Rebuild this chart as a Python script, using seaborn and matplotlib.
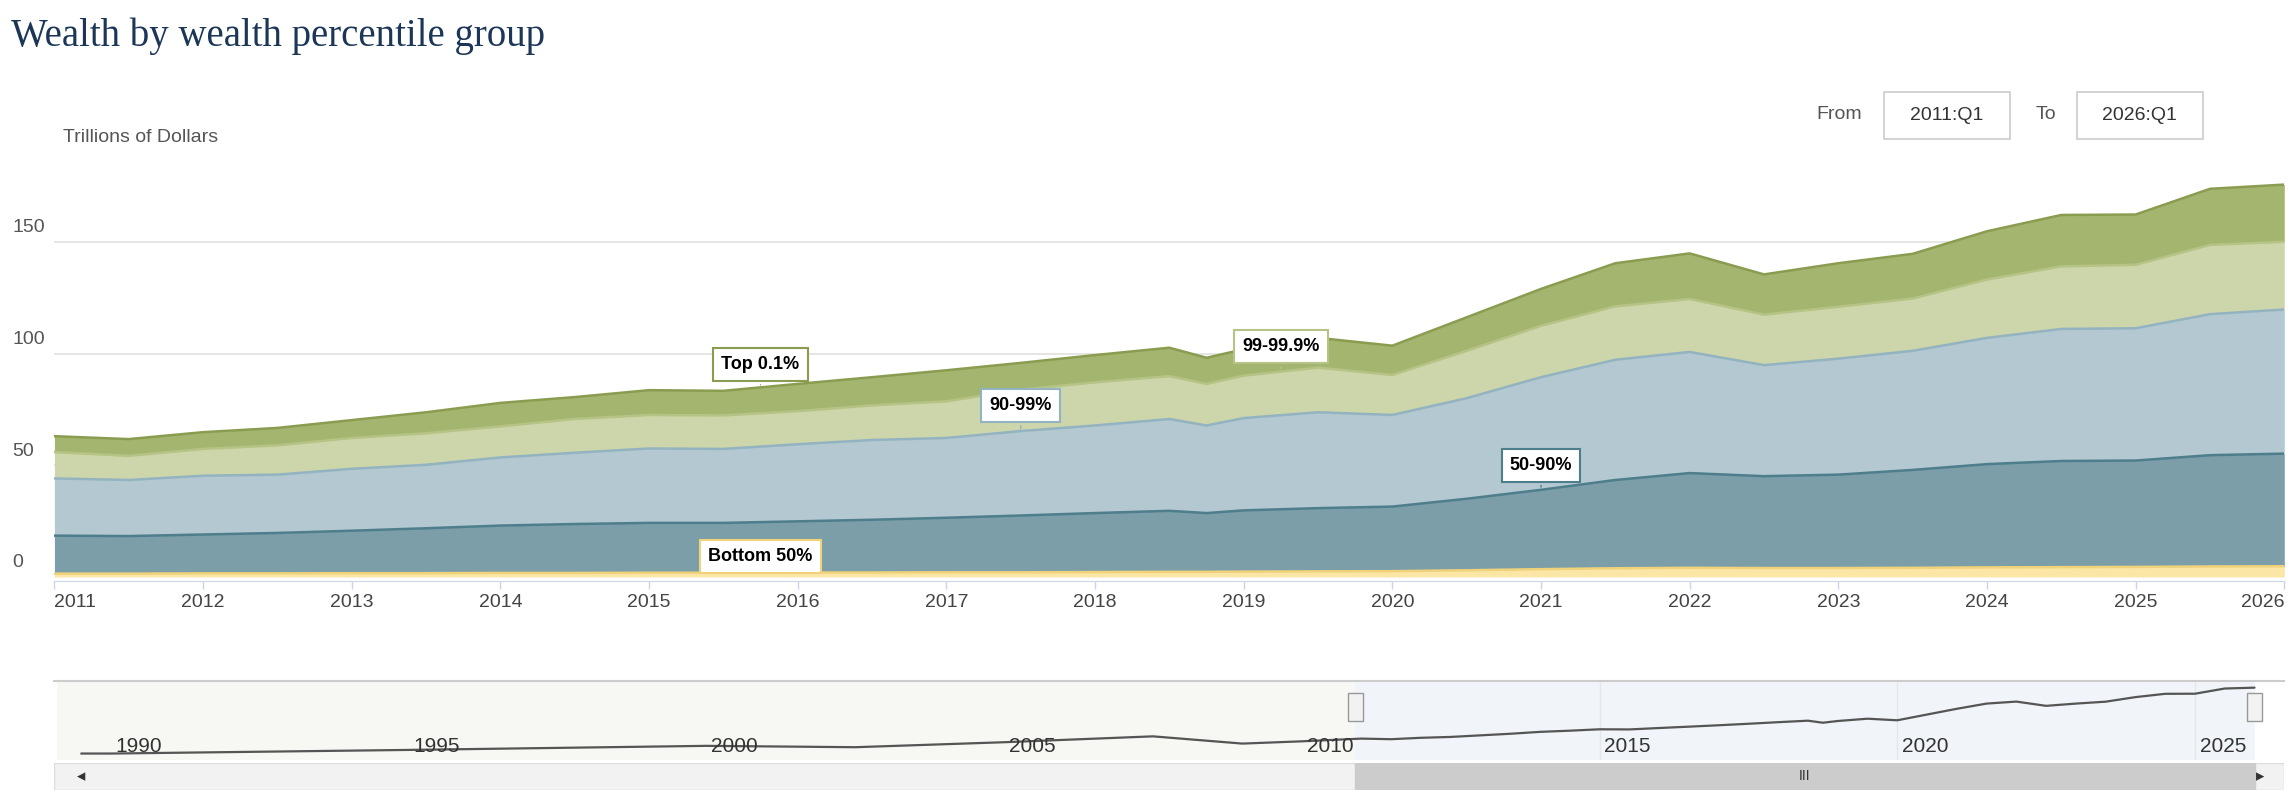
import numpy as np
import pandas as pd
import matplotlib.pyplot as plt
import matplotlib.patches as mpatches
import seaborn as sns

# datas (anos decimais) e limites acumulados, em trilhões
anos = [2011.0, 2011.5, 2012.0, 2012.5, 2013.0, 2013.5, 2014.0, 2014.5, 2015.0, 2015.5,
        2016.0, 2016.5, 2017.0, 2017.5, 2018.0, 2018.5, 2018.75, 2019.0, 2019.5, 2020.0,
        2020.5, 2021.0, 2021.5, 2022.0, 2022.5, 2023.0, 2023.5, 2024.0, 2024.5, 2025.0,
        2025.5, 2026.0]
total = [63, 61.7, 64.8, 66.7, 70.2, 73.7, 77.9, 80.5, 83.6, 83.3, 86.4, 89.4, 92.5, 95.8,
         99.3, 102.6, 98.1, 101.9, 107, 103.5, 116.2, 128.9, 140.4, 144.8, 135.4, 140.4,
         144.6, 154.7, 162, 162.2, 173.7, 175.6]
ate_999 = [55.9, 54.2, 57.3, 58.9, 62.2, 64.3, 67.4, 70.7, 72.5, 72.3, 74.2, 76.8, 78.6, 83.8,
           87.1, 89.9, 86.4, 90.1, 93.7, 90.4, 101.2, 112.4, 121.1, 124.4, 117.4, 120.9,
           124.6, 133.1, 139, 139.7, 148.6, 150]
ate_99 = [44.1, 43.4, 45.3, 45.8, 48.4, 50.2, 53.5, 55.6, 57.5, 57.3, 59.4, 61.3, 62.2, 65.3,
          67.8, 70.7, 67.8, 71.1, 73.7, 72.5, 80, 89.4, 97.2, 100.7, 94.8, 97.7, 101.2, 107,
          111, 111.3, 117.6, 119.7]
ate_90 = [18.5, 18.3, 19, 19.7, 20.7, 21.8, 23, 23.7, 24.2, 24.2, 24.9, 25.6, 26.5, 27.5,
          28.6, 29.6, 28.6, 29.8, 30.8, 31.5, 35, 39, 43.4, 46.5, 45.1, 45.8, 47.9, 50.5,
          51.9, 52.1, 54.5, 55.2]
base_50 = [1.5, 1.5, 1.6, 1.6, 1.7, 1.7, 1.8, 1.8, 1.9, 1.9, 2.0, 2.0, 2.1, 2.1, 2.2, 2.3,
           2.3, 2.4, 2.5, 2.6, 3.0, 3.5, 3.9, 4.1, 4.0, 4.0, 4.1, 4.3, 4.4, 4.5, 4.7, 4.8]

# navegador: série total desde 1989
anos_nav = [1989.5, 1990, 1995, 2000, 2002.5, 2005, 2007.5, 2009, 2010] + anos
total_nav = [30, 30, 38, 47, 44, 55, 68, 52, 57] + total

cores = {'Top 0.1%': ('#a4b56f', '#8a9c50'), '99-99.9%': ('#cdd6aa', '#b5c385'),
         '90-99%': ('#b3c8d0', '#94b3c0'), '50-90%': ('#7b9ea9', '#4e7d8c'),
         'Bottom 50%': ('#fbe6a6', '#f0d27a')}

df = pd.DataFrame({'ano': anos, 'total': total, 'p999': ate_999, 'p99': ate_99,
                   'p90': ate_90, 'p50': base_50})

sns.set_style('white')
plt.rcParams['font.family'] = ['Liberation Sans', 'DejaVu Sans']

fig = plt.figure(figsize=(22.96, 8.08), dpi=100)
ax = fig.add_axes([0.0237, 0.2815, 0.9712, 0.505])

camadas = [(None, 'p50', 'Bottom 50%'), ('p50', 'p90', '50-90%'), ('p90', 'p99', '90-99%'),
           ('p99', 'p999', '99-99.9%'), ('p999', 'total', 'Top 0.1%')]
for baixo, cima, nome in camadas:
    y0 = 0 if baixo is None else df[baixo]
    ax.fill_between(df['ano'], y0, df[cima], color=cores[nome][0], lw=0)
    sns.lineplot(data=df, x='ano', y=cima, color=cores[nome][1], lw=1.8, ax=ax)

ax.set_xlim(2011, 2026)
ax.set_ylim(-1.6, 181)
ax.set_xticks(range(2011, 2027))
ax.set_xlabel('')
ax.set_ylabel('')
ax.tick_params(axis='x', labelsize=14, colors='#444444', length=6, width=1, color='#ccd6eb',
               direction='out', bottom=True)
ax.get_xticklabels()[-1].set_ha('right')
ax.get_xticklabels()[0].set_ha('left')
ax.set_yticks([0, 50, 100, 150])
ax.set_yticklabels([])
ax.tick_params(axis='y', length=0)
for v in [50, 100, 150]:
    ax.axhline(v, color='#e0e0e0', lw=1.2, zorder=0.5)
for v in [0, 50, 100, 150]:
    ax.text(-0.019, v + 2.5, str(v), transform=ax.get_yaxis_transform(), ha='left',
            va='bottom', fontsize=14, color='#555555')
sns.despine(ax=ax, left=True, top=True, right=True)
ax.spines['bottom'].set_color('#ccd6eb')

# anotações
notas = [('Top 0.1%', 2015.75, 95, 84.7, '#8a9c50'), ('90-99%', 2017.5, 76.7, 65, '#94b3c0'),
         ('99-99.9%', 2019.25, 103, 92, '#b5c385'), ('50-90%', 2021.0, 50, 39, '#4e7d8c'),
         ('Bottom 50%', 2015.75, 9.3, 2, '#f0d27a')]
for txt, x, y, yp, c in notas:
    ax.annotate(txt, xy=(x, yp), xytext=(x, y), ha='center', va='center', fontsize=13,
                fontweight='bold', color='black',
                bbox=dict(boxstyle='square,pad=0.45', fc='white', ec=c, lw=1.5),
                arrowprops=dict(arrowstyle='-', color=c, lw=1), zorder=5)

fig.text(0.005, 0.955, 'Wealth by wealth percentile group', fontsize=28, color='#1c3657',
         family=['Liberation Serif', 'DejaVu Serif'], va='center')
fig.text(0.0276, 0.83, 'Trillions of Dollars', fontsize=14, color='#555555', va='center')

# caixas From / To
fig.text(0.801, 0.858, 'From', fontsize=14, color='#555555', va='center', ha='center')
fig.text(0.891, 0.858, 'To', fontsize=14, color='#555555', va='center', ha='center')
for x0, s in [(0.8205, '2011:Q1'), (0.9045, '2026:Q1')]:
    fig.patches.append(mpatches.Rectangle((x0, 0.828), 0.055, 0.058, transform=fig.transFigure,
                                          fc='white', ec='#cccccc', lw=1.2))
    fig.text(x0 + 0.0275, 0.857, s, fontsize=14, color='#333333', ha='center', va='center')

# navegador
nav = fig.add_axes([0.0237, 0.059, 0.9712, 0.098])
nav.axvspan(2010.9, 2026.0, color='#e8eef4', alpha=0.6, lw=0)
nav.axvspan(1989.1, 2010.9, color='#f7f8f3', lw=0)
sns.lineplot(x=anos_nav, y=total_nav, color='#555555', lw=1.6, ax=nav)
nav.set_xlim(1989.05, 2026.5)
nav.set_ylim(15, 190)
nav.set_xticks([])
nav.set_yticks([])
for a in [1990, 1995, 2000, 2005, 2010, 2015, 2020, 2025]:
    nav.axvline(a, color='#e0e0e0', lw=1, zorder=0.5)
    nav.text(a + 0.08, 0.05, str(a), transform=nav.get_xaxis_transform(), fontsize=15,
             color='#333333', va='bottom', ha='left')
for s in ['left', 'right', 'bottom']:
    nav.spines[s].set_visible(False)
nav.spines['top'].set_color('#cccccc')
nav.spines['top'].set_linewidth(1.5)
for a in [2010.9, 2026.0]:
    nav.add_patch(mpatches.Rectangle((a - 0.13, 0.5), 0.26, 0.35, transform=nav.get_xaxis_transform(),
                                     fc='#f2f2f2', ec='#999999', lw=1, zorder=6))

barra = fig.add_axes([0.0237, 0.022, 0.9712, 0.034])
barra.set_xlim(1989.05, 2026.5)
barra.set_ylim(0, 1)
barra.axis('off')
barra.add_patch(mpatches.Rectangle((1989.05, 0), 37.45, 1, fc='#f2f2f2', ec='#dddddd'))
barra.add_patch(mpatches.Rectangle((2010.9, 0), 15.1, 1, fc='#cccccc', ec='#cccccc'))
barra.text(2018.45, 0.5, 'III', ha='center', va='center', fontsize=10, color='#333333')
barra.text(1989.5, 0.5, '◂', ha='center', va='center', fontsize=12, color='#333333')
barra.text(2026.1, 0.5, '▸', ha='center', va='center', fontsize=12, color='#333333')

fig.savefig('out.png', dpi=100)
